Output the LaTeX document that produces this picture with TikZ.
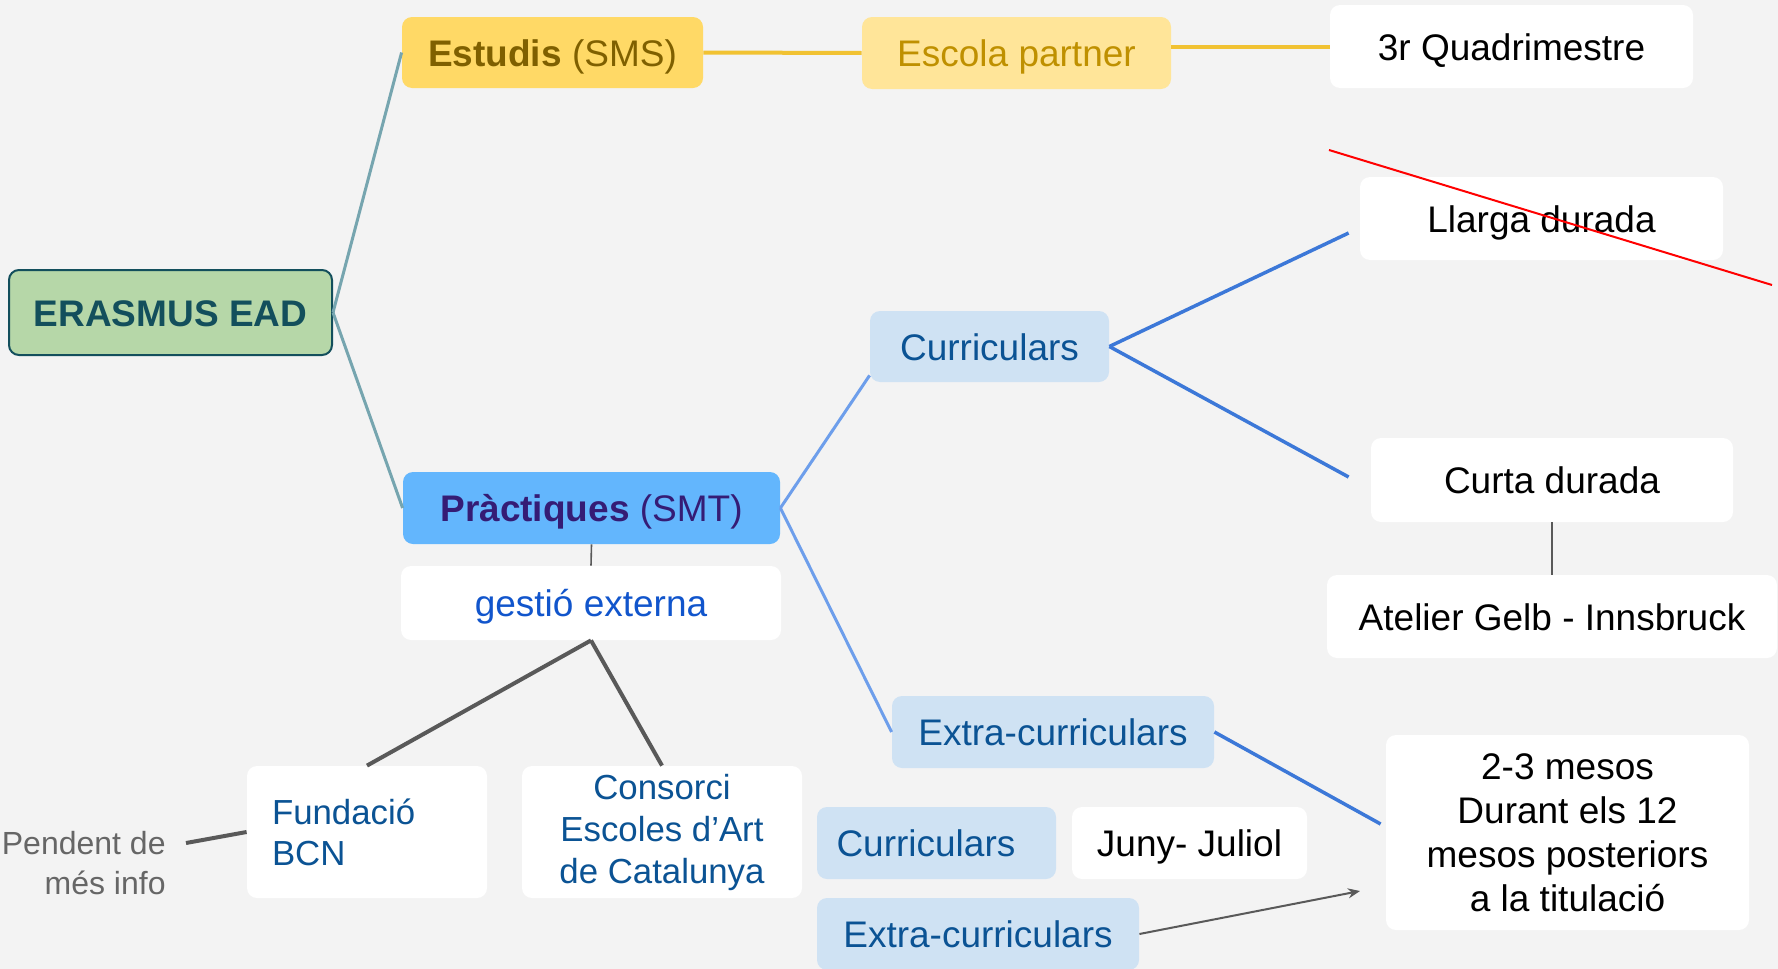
\documentclass[tikz,border=0pt]{standalone}
\usepackage{fontspec}
\setmainfont{Liberation Sans}
\usetikzlibrary{calc,arrows.meta}
\definecolor{bg}{HTML}{F3F3F3}
\definecolor{cgreen}{HTML}{B6D7A8}
\definecolor{cteal}{HTML}{134F5C}
\definecolor{cteall}{HTML}{76A5AF}
\definecolor{cyel}{HTML}{FFD966}
\definecolor{cyell}{HTML}{FFE599}
\definecolor{cyeltxt}{HTML}{7F6000}
\definecolor{cyeltxtl}{HTML}{BF9000}
\definecolor{cyelline}{HTML}{F1C232}
\definecolor{cprac}{HTML}{63B6FD}
\definecolor{cpurple}{HTML}{351C75}
\definecolor{clblue}{HTML}{CFE2F3}
\definecolor{cdblue}{HTML}{0B5394}
\definecolor{cgblue}{HTML}{1155CC}
\definecolor{cline}{HTML}{3C78D8}
\definecolor{clinel}{HTML}{6D9EEB}
\definecolor{cgray}{HTML}{595959}
\definecolor{cgtxt}{HTML}{666666}
\begin{document}
\begin{tikzpicture}[x=0.5pt,y=-0.5pt,
  box/.style={rounded corners=5pt, inner sep=0pt, align=center, font=\fontsize{18.5}{22}\selectfont},
  oneline/.style={text height=17.5pt, text depth=4pt},
  sz/.style 2 args={minimum width=#1*0.5pt, minimum height=#2*0.5pt},
  whitebox/.style={box, fill=white, text=black},
  bluebox/.style={box, fill=clblue, text=cdblue},
  tealline/.style={draw=cteall, line width=1.5pt},
  yelline/.style={draw=cyelline, line width=2pt},
  blueline/.style={draw=cline, line width=1.75pt},
  lblueline/.style={draw=clinel, line width=1.5pt},
  grayline/.style={draw=cgray, line width=2pt},
  thinline/.style={draw=cgray, line width=0.6pt},
]
\fill[bg] (0,0) rectangle (1778,969);
\useasboundingbox (0,0) rectangle (1778,969);

% nodes
\node[box, oneline, sz={323}{85}, fill=cgreen, draw=cteal, line width=1pt, text=cteal, font=\fontsize{18.5}{22}\selectfont\bfseries] (erasmus) at (170.5,312.5) {ERASMUS EAD};
\node[box, oneline, sz={301}{71}, fill=cyel, text=cyeltxt] (estudis) at (552.5,52.5) {{\bfseries Estudis} (SMS)};
\node[box, oneline, sz={309}{72}, fill=cyell, text=cyeltxtl] (escola) at (1016.5,53) {Escola partner};
\node[whitebox, oneline, sz={363}{83}] (quad) at (1511.5,46.5) {3r Quadrimestre};
\node[whitebox, oneline, sz={363}{83}] (llarga) at (1541.5,218.5) {Llarga durada};
\node[bluebox, oneline, sz={239}{71}] (curric1) at (989.5,346.5) {Curriculars};
\node[whitebox, oneline, sz={362}{84}] (curta) at (1552,480) {Curta durada};
\node[whitebox, oneline, sz={450}{83}] (atelier) at (1552,616.5) {Atelier Gelb - Innsbruck};
\node[box, oneline, sz={377}{72}, fill=cprac, text=cpurple] (practiques) at (591.5,508) {{\bfseries Pràctiques} (SMT)};
\node[whitebox, oneline, sz={380}{74}, text=cgblue] (gestio) at (591,603) {gestió externa};
\node[bluebox, oneline, sz={322}{72}] (extra1) at (1053,732) {Extra-curriculars};
\node[whitebox, sz={363}{195}] (mesos) at (1567.5,832.5) {2-3 mesos\\Durant els 12\\mesos posteriors\\a la titulació};
\node[whitebox, sz={240}{132}, text=cdblue, align=left, text width=95pt, font=\fontsize{17.4}{20.5}\selectfont] (fundacio) at (367,832) {Fundació\\BCN};
\node[whitebox, sz={280}{132}, text=cdblue, font=\fontsize{17.4}{21}\selectfont] (consorci) at (662,832) {Consorci\\Escoles d’Art\\de Catalunya};
\node[bluebox, oneline, sz={239}{72}, text width=100pt, align=left] (curric2) at (936.5,843) {Curriculars};
\node[whitebox, oneline, sz={235}{72}] (juny) at (1189.5,843) {Juny- Juliol};
\node[bluebox, oneline, sz={322}{72}] (extra2) at (978,934) {Extra-curriculars};
\node[inner sep=0pt, anchor=east, align=right, text=cgtxt, font=\fontsize{16}{20}\selectfont] (pendent) at (166,863) {Pendent de\\més info};

\coordinate (arrowEnd) at (1360,891);
\coordinate (strikeA) at (1329,150);
\coordinate (strikeB) at (1772,285);

% connectors
\draw[tealline] (erasmus.east) -- (estudis.west);
\draw[tealline] (erasmus.east) -- (practiques.west);
\draw[yelline] (estudis.east) -- (escola.west);
\draw[yelline] (escola.east |- quad.west) -- (quad.west);
\draw[lblueline] (practiques.east) -- ([yshift=3.5pt]curric1.south west);
\draw[lblueline] (practiques.east) -- (extra1.west);
\draw[blueline] (curric1.east) -- ([xshift=-5.5pt,yshift=-7.25pt]llarga.west);
\draw[blueline] (curric1.east) -- ([xshift=-11pt,yshift=1.5pt]curta.west);
\draw[blueline] (extra1.east) -- ([xshift=-2.5pt,yshift=4.25pt]mesos.west);
\draw[thinline] (curta.south) -- (atelier.north);
\draw[thinline, line width=0.8pt] (practiques.south) -- (gestio.north);
\draw[grayline] (gestio.south) -- (fundacio.north);
\draw[grayline] (gestio.south) -- (consorci.north);
\draw[grayline] ([xshift=10pt,yshift=10pt]pendent.east) -- (fundacio.west);
\draw[cgray, line width=1pt, -{Stealth[length=6pt,width=5pt]}] (extra2.east) -- (arrowEnd);
\draw[red, line width=1pt] (strikeA) -- (strikeB);
\end{tikzpicture}
\end{document}
